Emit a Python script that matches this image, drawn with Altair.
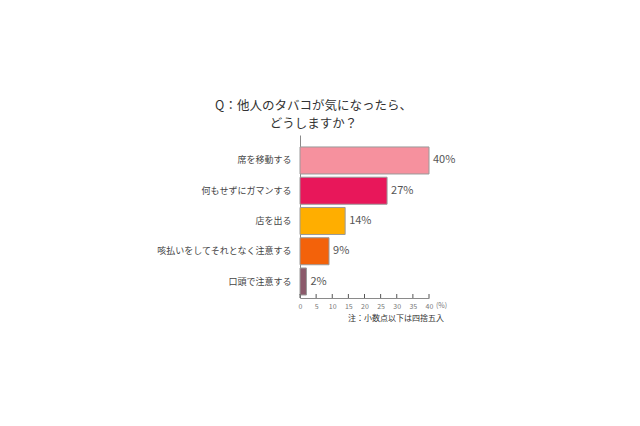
import altair as alt
import pandas as pd

categories = ["席を移動する", "何もせずにガマンする", "店を出る", "咳払いをしてそれとなく注意する", "口頭で注意する"]
values = [40, 27, 14, 9, 2]
labels = ["40%", "27%", "14%", "9%", "2%"]
colors = ["#F6919E", "#E8175A", "#FFAE00", "#F3620A", "#8B5A6B"]
tick_values = [0, 5, 10, 15, 20, 25, 30, 35, 40]

df = pd.DataFrame({"cat": categories, "val": values, "lab": labels, "col": colors})
ticks_df = pd.DataFrame({"t": tick_values})

W, H = 129, 163
FONT = "Noto Sans CJK JP"

xscale = alt.Scale(domain=[0, 40], nice=False, zero=True)
yscale = alt.Scale(domain=categories, paddingInner=0.107, paddingOuter=0.247, align=0.8)

base = alt.Chart(df)

xaxis = alt.Axis(values=tick_values, ticks=False, grid=False, title=None,
                 domainColor="#8a8a8a", labelFontSize=7, labelColor="#777777",
                 labelPadding=4, labelFont=FONT, labelOverlap=False,
                 labelFlush=False, labelSeparation=0)

bars = base.mark_bar(stroke="#9a9a9a", strokeWidth=1).encode(
    x=alt.X("val:Q", scale=xscale, axis=xaxis),
    y=alt.Y("cat:N", scale=yscale, sort=categories,
            axis=alt.Axis(ticks=False, grid=False, title=None, domainColor="#8a8a8a",
                          labelFontSize=9, labelColor="#444444", labelPadding=9,
                          labelFont=FONT, labelLimit=300)),
    color=alt.Color("col:N", scale=None),
)

text = base.mark_text(align="left", baseline="middle", dx=4, fontSize=11,
                      color="#555555", font=FONT).encode(
    x=alt.X("val:Q", scale=xscale, axis=xaxis),
    y=alt.Y("cat:N", scale=yscale, sort=categories),
    text="lab:N",
)

tick_marks = alt.Chart(ticks_df).mark_rule(color="#555555", strokeWidth=1).encode(
    x=alt.X("t:Q", scale=xscale, axis=xaxis),
    y=alt.value(H - 4),
    y2=alt.value(H),
)

pct = alt.Chart(pd.DataFrame({"s": ["(%)"]})).mark_text(
    align="left", baseline="top", fontSize=7, color="#777777", font=FONT
).encode(x=alt.value(W + 7), y=alt.value(H + 4), text="s:N")

note = alt.Chart(pd.DataFrame({"s": ["注：小数点以下は四捨五入"]})).mark_text(
    align="right", baseline="middle", fontSize=8, color="#333333", font=FONT
).encode(x=alt.value(W + 15), y=alt.value(H + 21), text="s:N")

chart = alt.layer(bars, text, tick_marks, pct, note).properties(
    width=W, height=H,
    autosize=alt.AutoSizeParams(type="none"),
    padding={"left": 292, "top": 127, "right": 200, "bottom": 60},
    title=alt.TitleParams(
        text=["Q：他人のタバコが気になったら、", "どうしますか？"],
        fontSize=12.5, font=FONT, color="#333333", fontWeight="normal",
        anchor="middle", dx=-51, offset=5, lineHeight=18,
    ),
).configure(background="white").configure_view(stroke=None)

chart.save("out.html", embed_options={"renderer": "svg", "actions": False})
